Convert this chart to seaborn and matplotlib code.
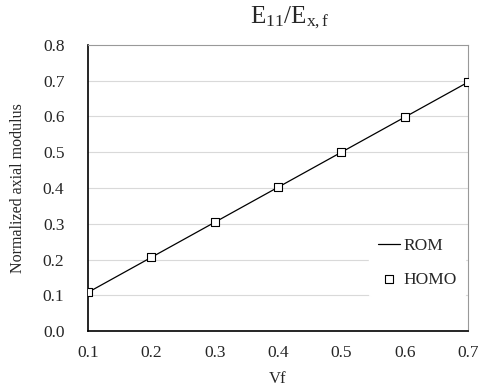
import matplotlib
matplotlib.use("Agg")
import matplotlib.pyplot as plt
import seaborn as sns
import pandas as pd

vf = [0.1, 0.2, 0.3, 0.4, 0.5, 0.6, 0.7]
rom = [0.108, 0.206, 0.304, 0.402, 0.500, 0.598, 0.696]
homo = [0.108, 0.207, 0.304, 0.402, 0.500, 0.598, 0.697]
xticks = [0.1, 0.2, 0.3, 0.4, 0.5, 0.6, 0.7]
yticks = [0.0, 0.1, 0.2, 0.3, 0.4, 0.5, 0.6, 0.7, 0.8]

sns.set_style("white")
plt.rcParams['font.family'] = ['Liberation Serif', 'DejaVu Serif']
plt.rcParams['mathtext.fontset'] = 'custom'
plt.rcParams['mathtext.rm'] = 'Liberation Serif'
plt.rcParams['mathtext.it'] = 'Liberation Serif:italic'

df = pd.DataFrame({"Vf": vf, "ROM": rom, "HOMO": homo})

fig = plt.figure(figsize=(4.84, 3.89), dpi=100)
ax = fig.add_axes([88/484, 1-331/389, 380/484, 286/389])

for y in yticks[1:-1]:
    ax.axhline(y, color="#d9d9d9", lw=0.8, zorder=0)

sns.lineplot(data=df, x="Vf", y="ROM", ax=ax, color="black", lw=0.9, label="ROM", zorder=2)
sns.scatterplot(data=df, x="Vf", y="HOMO", ax=ax, marker="s", s=32, facecolor="white",
                edgecolor="black", linewidth=0.8, label="HOMO", zorder=3)

ax.set_xlim(0.1, 0.7)
ax.set_ylim(0.0, 0.8)
ax.set_xticks(xticks)
ax.set_xticklabels([f"{t:.1f}" for t in xticks])
ax.set_yticks(yticks)
ax.set_yticklabels([f"{t:.1f}" for t in yticks])
ax.tick_params(axis="y", labelsize=12.5, length=0, pad=17)
ax.tick_params(axis="x", labelsize=12.5, direction="in", length=3.5, width=0.6,
               color="#bbbbbb", pad=10)

for s in ["left", "bottom"]:
    ax.spines[s].set_color("black")
    ax.spines[s].set_linewidth(1.2)
for s in ["top", "right"]:
    ax.spines[s].set_color("#999999")
    ax.spines[s].set_linewidth(0.8)

ax.set_xlabel("Vf", fontsize=12, labelpad=7)
ax.set_ylabel("Normalized axial modulus", fontsize=11.5, labelpad=12)
ax.set_title(r"E$_{11}$/E$_{\mathrm{x,f}}$", fontsize=18, pad=16, x=0.53)

leg = ax.legend(loc="lower right", bbox_to_anchor=(1.015, 0.09), frameon=True, fontsize=12.5,
                handlelength=1.3, handletextpad=0.15, labelspacing=1.0, borderpad=0.5)
leg.get_frame().set_edgecolor("white")
leg.get_frame().set_facecolor("white")
leg.get_frame().set_alpha(1)

fig.savefig("out.png", dpi=100)
